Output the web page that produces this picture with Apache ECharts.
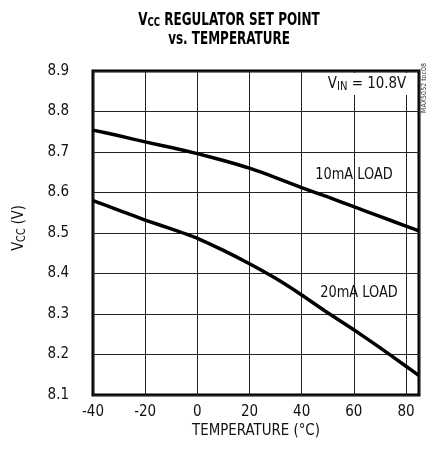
<!DOCTYPE html>
<html>
<head>
<meta charset="utf-8">
<script src="https://cdn.jsdelivr.net/npm/echarts@6/dist/echarts.min.js"></script>
<style>
  html, body { margin: 0; padding: 0; background: #fff; }
  #chart { width: 429px; height: 455px; }
</style>
</head>
<body>
<div id="chart"></div>
<script>
// temperature (°C) and Vcc (V)
const temps = [-40, -30, -20, -10, 0, 10, 20, 30, 40, 50, 60, 70, 80, 85]
const load10mA = [8.754, 8.740, 8.725, 8.711, 8.696, 8.679, 8.660, 8.637, 8.612, 8.589, 8.565, 8.541, 8.517, 8.505]
const load20mA = [8.580, 8.556, 8.532, 8.510, 8.487, 8.457, 8.424, 8.388, 8.347, 8.303, 8.261, 8.217, 8.171, 8.148]
const xTicks = [-40, -20, 0, 20, 40, 60, 80]
const yTicks = ['8.1', '8.2', '8.3', '8.4', '8.5', '8.6', '8.7', '8.8', '8.9']

const narrow = "'Liberation Sans Narrow', 'DejaVu Sans Condensed', 'Roboto Condensed', sans-serif"

const chart = echarts.init(document.getElementById('chart'), null, { renderer: 'canvas' })

const pairs = (ys) => temps.map((t, i) => [t, ys[i]])

chart.setOption({
  animation: false,
  grid: {
    left: 93, right: 10, top: 71, bottom: 60,
    show: true, borderColor: '#000', borderWidth: 3, backgroundColor: '#fff'
  },
  xAxis: {
    type: 'value', min: -40, max: 85, interval: 20,
    axisLine: { show: false }, axisTick: { show: false },
    splitLine: { lineStyle: { color: '#222', width: 1 } },
    axisLabel: {
      margin: 10, color: '#111', fontSize: 15, fontFamily: narrow,
      formatter: (v) => xTicks.includes(v) ? String(v) : ''
    }
  },
  yAxis: {
    type: 'value', min: 8.1, max: 8.9, interval: 0.1,
    axisLine: { show: false }, axisTick: { show: false },
    splitLine: { lineStyle: { color: '#222', width: 1 } },
    axisLabel: {
      margin: 24, color: '#111', fontSize: 15, fontFamily: narrow,
      formatter: (v) => {
        const s = v.toFixed(1)
        return yTicks.includes(s) ? s : ''
      }
    }
  },
  series: [
    {
      name: '10mA LOAD', type: 'line', data: pairs(load10mA),
      smooth: 0.2, symbol: 'none', lineStyle: { color: '#000', width: 3.5 }
    },
    {
      name: '20mA LOAD', type: 'line', data: pairs(load20mA),
      smooth: 0.2, symbol: 'none', lineStyle: { color: '#000', width: 3.5 }
    }
  ],
  graphic: [
    // title, squeezed to look like the condensed original
    {
      type: 'text', x: 229, y: 20, scaleX: 0.74,
      style: {
        text: '{b|V}{s|CC}{b| REGULATOR SET POINT}', align: 'center', verticalAlign: 'middle',
        rich: {
          b: { fontSize: 18, fontWeight: 'bold', fontFamily: narrow, fill: '#000' },
          s: { fontSize: 13, fontWeight: 'bold', fontFamily: narrow, fill: '#000', padding: [6, 0, 0, 0] }
        }
      }
    },
    {
      type: 'text', x: 229, y: 39, scaleX: 0.74,
      style: { text: 'vs. TEMPERATURE', fontSize: 18, fontWeight: 'bold', fontFamily: narrow, fill: '#000', align: 'center', verticalAlign: 'middle' }
    },
    // y axis name
    {
      type: 'text', x: 19, y: 228, rotation: Math.PI / 2, scaleX: 0.9,
      style: {
        text: '{n|V}{s|CC}{n| (V)}', align: 'center', verticalAlign: 'middle',
        rich: {
          n: { fontSize: 16, fontFamily: narrow, fill: '#111' },
          s: { fontSize: 12, fontFamily: narrow, fill: '#111', padding: [5, 0, 0, 0] }
        }
      }
    },
    // x axis name
    {
      type: 'text', x: 256, y: 431, scaleX: 0.93,
      style: { text: 'TEMPERATURE (°C)', fontSize: 16, fontFamily: narrow, fill: '#111', align: 'center', verticalAlign: 'middle' }
    },
    // VIN note
    {
      type: 'text', x: 408, y: 84, z: 100, scaleX: 0.93,
      style: {
        text: '{n|V}{s|IN}{n| = 10.8V}', align: 'right', verticalAlign: 'middle',
        backgroundColor: '#fff', padding: [2, 2, 2, 2],
        rich: {
          n: { fontSize: 16, fontFamily: narrow, fill: '#111' },
          s: { fontSize: 12, fontFamily: narrow, fill: '#111', padding: [6, 0, 0, 0] }
        }
      }
    },
    // curve labels
    {
      type: 'text', x: 354, y: 175, z: 100, scaleX: 0.9,
      style: { text: '10mA LOAD', fontSize: 16, fontFamily: narrow, fill: '#111', align: 'center', verticalAlign: 'middle' }
    },
    {
      type: 'text', x: 359, y: 293, z: 100, scaleX: 0.9,
      style: { text: '20mA LOAD', fontSize: 16, fontFamily: narrow, fill: '#111', align: 'center', verticalAlign: 'middle' }
    },
    // figure id
    {
      type: 'text', x: 424, y: 88, rotation: Math.PI / 2,
      style: { text: 'MAX5052 toc08', fontSize: 7, fontFamily: narrow, fill: '#333', align: 'center', verticalAlign: 'middle' }
    }
  ]
})

window.addEventListener('resize', () => {
  chart.resize()
}, false)
</script>
</body>
</html>
